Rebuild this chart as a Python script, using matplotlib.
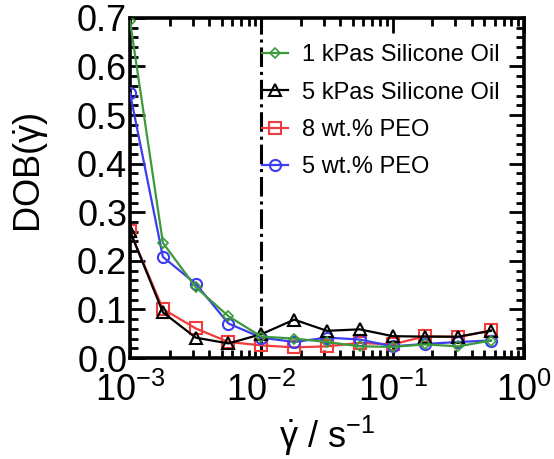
import numpy as np
import matplotlib
matplotlib.use("Agg")
import matplotlib.pyplot as plt
from matplotlib.ticker import LogLocator, MultipleLocator

plt.rcParams['font.family'] = ['Liberation Sans', 'DejaVu Sans']
plt.rcParams['mathtext.fontset'] = 'custom'
plt.rcParams['mathtext.rm'] = 'Liberation Sans'
plt.rcParams['mathtext.it'] = 'Liberation Sans:italic'

############## data

shear_rate = [1.0e-3, 1.78e-3, 3.16e-3, 5.62e-3, 1.0e-2, 1.78e-2,
              3.16e-2, 5.62e-2, 1.0e-1, 1.78e-1, 3.16e-1, 5.62e-1]

oil_1k = [0.693, 0.237, 0.146, 0.086, 0.044, 0.040,
          0.033, 0.024, 0.023, 0.028, 0.024, 0.036]
oil_5k = [0.261, 0.094, 0.042, 0.030, 0.049, 0.079,
          0.056, 0.059, 0.045, 0.044, 0.044, 0.056]
peo_8 = [0.261, 0.101, 0.061, 0.033, 0.026, 0.022,
         0.024, 0.031, 0.028, 0.045, 0.043, 0.057]
peo_5 = [0.545, 0.208, 0.153, 0.071, 0.042, 0.033,
         0.042, 0.038, 0.024, 0.029, 0.033, 0.036]

x_ticks = [1e-3, 1e-2, 1e-1, 1e0]
x_ticklabels = ['$10^{-3}$', '$10^{-2}$', '$10^{-1}$', '$10^{0}$']
y_ticks = [0.0, 0.1, 0.2, 0.3, 0.4, 0.5, 0.6, 0.7]

############## plot

fig = plt.figure(figsize=(5.54, 4.59), dpi=100)
ax = fig.add_axes([0.2347, 0.22, 0.711, 0.741])

ax.axvline(1e-2, color='k', ls='-.', lw=2.2, zorder=1)

ax.plot(shear_rate, oil_1k, color='#3c9a3c', marker='D', ms=5, mfc='none',
        mew=1.2, lw=1.6, label='1 kPas Silicone Oil', zorder=5)
ax.plot(shear_rate, oil_5k, color='k', marker='^', ms=8, mfc='none',
        mew=1.5, lw=1.6, label='5 kPas Silicone Oil', zorder=4)
ax.plot(shear_rate, peo_8, color='#f03c3c', marker='s', ms=8, mfc='none',
        mew=1.5, lw=1.6, label='8 wt.% PEO', zorder=2)
ax.plot(shear_rate, peo_5, color='#3c3cf0', marker='o', ms=8, mfc='none',
        mew=1.5, lw=1.6, label='5 wt.% PEO', zorder=3)

ax.set_xscale('log')
ax.set_xlim(1e-3, 1e0)
ax.set_ylim(0, 0.7)
ax.set_xticks(x_ticks)
ax.set_xticklabels(x_ticklabels)
ax.xaxis.set_minor_locator(LogLocator(base=10, subs=np.arange(2, 10)))
ax.set_yticks(y_ticks)
ax.set_yticklabels([f'{v:.1f}' for v in y_ticks])
ax.yaxis.set_minor_locator(MultipleLocator(0.02))

ax.tick_params(which='both', direction='in', top=True, right=True, width=2)
ax.tick_params(which='major', length=11, labelsize=26)
ax.tick_params(which='minor', length=6)
ax.tick_params(axis='x', which='major', pad=11)
ax.tick_params(axis='y', which='major', pad=2)
for s in ax.spines.values():
    s.set_linewidth(2.6)

ax.set_xlabel('$\\dot{\\mathrm{\\gamma}}$ / s$^{-1}$', fontsize=26, labelpad=3)
ax.set_ylabel('DOB($\\dot{\\mathrm{\\gamma}}$)', fontsize=26)
ax.yaxis.set_label_coords(-0.20, 0.545)

ax.legend(loc='upper right', bbox_to_anchor=(0.962, 0.95), frameon=False,
          fontsize=17, handlelength=1.1, handletextpad=0.6,
          labelspacing=0.65, borderaxespad=0)

fig.savefig('out.png', dpi=100)
